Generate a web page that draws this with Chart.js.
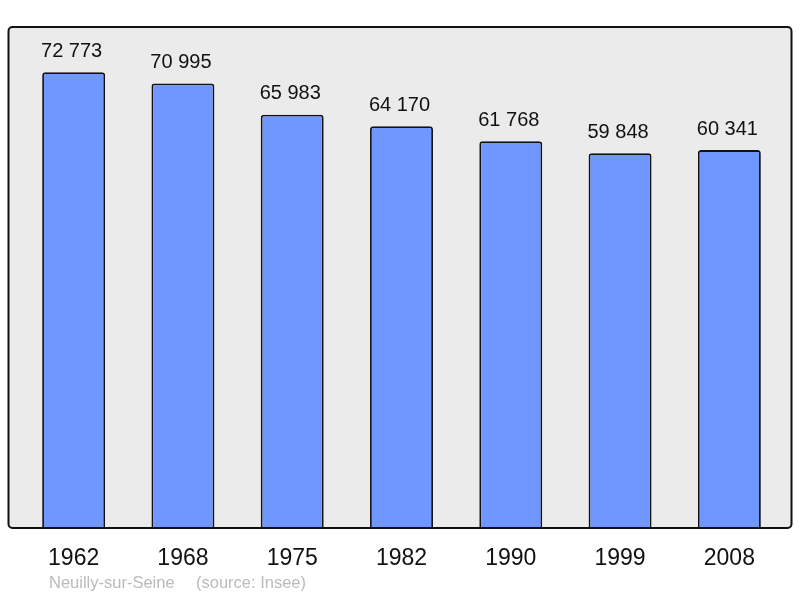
<!DOCTYPE html>
<html>
<head>
<meta charset="utf-8">
<script src="https://cdn.jsdelivr.net/npm/chart.js@4"></script>
<style>
  html, body { margin: 0; padding: 0; background: #fff; }
  #wrap { width: 800px; height: 598px; }
</style>
</head>
<body>
<div id="wrap"><canvas id="myChart" width="800" height="598"></canvas></div>
<script>
const years = ['1962', '1968', '1975', '1982', '1990', '1999', '2008'];
const population = [72773, 70995, 65983, 64170, 61768, 59848, 60341];
const yMax = 80000;
const placeName = 'Neuilly-sur-Seine';
const sourceText = '(source: Insee)';

const FONT = '"Liberation Sans", Arial, sans-serif';

function fmt(n) {
  return String(n).replace(/\B(?=(\d{3})+(?!\d))/g, ' ');
}

function framePath(chart) {
  const { ctx, chartArea: a } = chart;
  const x0 = a.left - 10.5, x1 = a.right + 7.5, y0 = a.top, y1 = a.bottom;
  ctx.beginPath();
  ctx.roundRect(x0, y0, x1 - x0, y1 - y0, 4);
}

// grey framed panel behind the bars, labels on top
const framePlugin = {
  id: 'frame',
  beforeDraw(chart) {
    const ctx = chart.ctx;
    ctx.save();
    framePath(chart);
    ctx.fillStyle = '#ebebeb';
    ctx.fill();
    ctx.restore();
  },
  afterDatasetsDraw(chart) {
    const ctx = chart.ctx;
    ctx.save();
    framePath(chart);
    ctx.lineWidth = 2;
    ctx.strokeStyle = '#111';
    ctx.stroke();

    // value labels above each bar
    ctx.font = '20px ' + FONT;
    ctx.fillStyle = '#111';
    ctx.textAlign = 'center';
    ctx.textBaseline = 'middle';
    chart.getDatasetMeta(0).data.forEach((bar, i) => {
      ctx.fillText(fmt(population[i]), bar.x - 2, bar.y - 21);
    });

    // footer
    ctx.font = '16.5px ' + FONT;
    ctx.fillStyle = '#bbbbbb';
    ctx.textAlign = 'left';
    ctx.fillText(placeName, 49, 583);
    ctx.fillText(sourceText, 196, 583);
    ctx.restore();
  }
};

const ctx = document.getElementById('myChart').getContext('2d');
new Chart(ctx, {
  type: 'bar',
  data: {
    labels: years,
    datasets: [{
      data: population,
      backgroundColor: '#7096ff',
      borderColor: '#111',
      borderWidth: 1.8,
      borderRadius: 3,
      barPercentage: 0.576,
      categoryPercentage: 1
    }]
  },
  options: {
    responsive: false,
    animation: false,
    layout: { padding: { left: 19, right: 16, top: 27, bottom: 0 } },
    plugins: { legend: { display: false }, tooltip: { enabled: false } },
    scales: {
      x: {
        grid: { display: false, drawTicks: false },
        border: { display: false },
        afterFit(scale) { scale.height = 70; },
        ticks: {
          color: '#111',
          padding: 17,
          font: { size: 23, family: FONT }
        }
      },
      y: { display: false, min: 0, max: yMax }
    }
  },
  plugins: [framePlugin]
});
</script>
</body>
</html>
